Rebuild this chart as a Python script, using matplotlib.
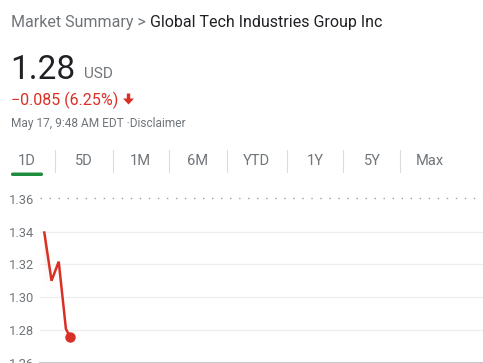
import matplotlib
matplotlib.use("Agg")
import matplotlib.pyplot as plt
import numpy as np
from matplotlib.patches import FancyBboxPatch, Polygon

# Quote data (minutes after 9:30 open)
minutes = [0, 5, 10, 15, 18]
prices = [1.3395, 1.3100, 1.3217, 1.2805, 1.2755]
prev_close = 1.3605
last_price = "1.28"
change_text = "\u22120.085 (6.25%)"
timestamp = "May 17, 9:48 AM EDT \u00b7Disclaimer"
ranges = ["1D", "5D", "1M", "6M", "YTD", "1Y", "5Y", "Max"]
yticks = [1.26, 1.28, 1.30, 1.32, 1.34, 1.36]

W, H = 483, 363
GRAY = "#70757a"
DARK = "#202124"
RED = "#d93025"
GREEN = "#1e8e3e"

plt.rcParams["font.family"] = ["Roboto", "DejaVu Sans"]

fig = plt.figure(figsize=(W / 100, H / 100), dpi=100)


def px(x, y):
    return x / W, 1 - y / H


# Header
t = fig.text(*px(11, 23), "Market Summary > ", color=GRAY, fontsize=11.5, va="center")
fig.canvas.draw()
bb = t.get_window_extent()
fig.text(bb.x1 / W, 1 - 23 / H, "Global Tech Industries Group Inc", color=DARK,
         fontsize=11.5, va="center")

t = fig.text(*px(10, 79), last_price, color=DARK, fontsize=24, va="baseline")
fig.canvas.draw()
bb = t.get_window_extent()
fig.text((bb.x1 + 9) / W, 1 - 78.5 / H, "USD", color=GRAY, fontsize=11, va="baseline")

t = fig.text(*px(11, 105), change_text, color=RED, fontsize=11.5, va="baseline")

# down arrow next to the change
arrow = np.array([[126.8, 93.5], [130.2, 93.5], [130.2, 98.5], [134, 98.5],
                  [128.5, 104.5], [123, 98.5], [126.8, 98.5]])
fig.add_artist(Polygon(np.column_stack([arrow[:, 0] / W, 1 - arrow[:, 1] / H]),
                       closed=True, fc=RED, ec="none", transform=fig.transFigure))

fig.text(*px(11, 127), timestamp, color=GRAY, fontsize=8.6, va="baseline")

# Range tabs
tab_x = [27, 84, 140, 198, 256, 315, 372, 430]
sep_x = [55, 113, 169, 227, 287, 343, 400]
for lab, x in zip(ranges, tab_x):
    fig.text(*px(x, 161), lab, color=GRAY, fontsize=10.5, ha="center", va="center")
for x in sep_x:
    fig.add_artist(plt.Line2D([x / W, x / W], [1 - 150 / H, 1 - 172 / H],
                              color="#dadce0", lw=0.8, transform=fig.transFigure))
fig.add_artist(FancyBboxPatch((11 / W, 1 - 176 / H), 32 / W, 3.5 / H,
                              boxstyle="round,pad=0,rounding_size=0.004",
                              fc=GREEN, ec="none", transform=fig.transFigure))

# Chart
ax = fig.add_axes([40 / W, 0.5 / H, 443 / W, 172.5 / H])
ax.set_xlim(-3, 304.6)
ax.set_ylim(1.26, 1.3655)

for y in yticks[1:-1]:
    ax.axhline(y, color="#eeeeee", lw=0.9, zorder=0)
ax.axhline(prev_close, color="#9aa0a6", lw=1.0, ls=(0, (1.0, 5.5)), zorder=1)

ax.plot(minutes, prices, color=RED, lw=1.8, zorder=3, solid_joinstyle="miter")
ax.plot(minutes[-1], prices[-1], "o", color=RED, ms=6.5, zorder=4)

# gradient fill under the line
poly = ax.fill_between(minutes, prices, 1.26, color="none")
grad = np.linspace(0, 1, 256).reshape(-1, 1)
img = ax.imshow(grad, extent=[minutes[0], minutes[-1], 1.26, max(prices)],
                aspect="auto", origin="lower", zorder=2,
                cmap=matplotlib.colors.LinearSegmentedColormap.from_list(
                    "fade", [(1, 1, 1, 0), (1, 1, 1, 0), (0.85, 0.19, 0.15, 0.2)]))
img.set_clip_path(poly.get_paths()[0], transform=ax.transData)

ax.set_yticks(yticks)
ax.set_yticklabels([f"{v:.2f}" for v in yticks], color=GRAY, fontsize=9.3)
ax.tick_params(axis="y", length=0, pad=4)
ax.set_xticks([])
for s in ["top", "right", "left"]:
    ax.spines[s].set_visible(False)
ax.spines["bottom"].set_color("#bdc1c6")
ax.spines["bottom"].set_linewidth(2)

fig.savefig("out.png", dpi=100)
